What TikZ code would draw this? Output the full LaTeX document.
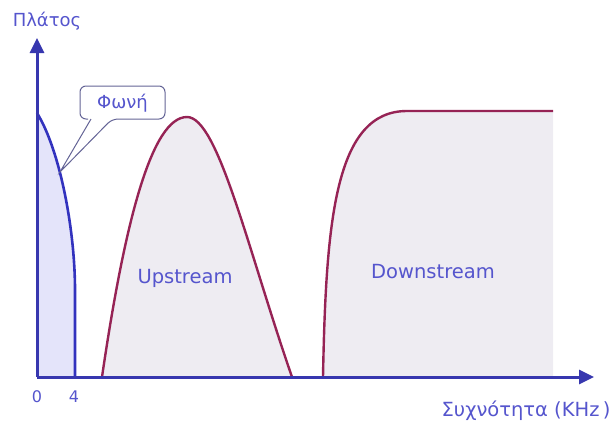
\documentclass[tikz,border=0pt]{standalone}
\usepackage{fontspec}
\setmainfont{DejaVu Sans}
\usetikzlibrary{arrows.meta}
\definecolor{axisblue}{RGB}{55,55,175}
\definecolor{voiceblue}{RGB}{50,50,190}
\definecolor{voicefill}{RGB}{228,228,250}
\definecolor{humpline}{RGB}{150,35,85}
\definecolor{humpfill}{RGB}{238,236,242}
\definecolor{txtblue}{RGB}{85,85,205}
\definecolor{calloutline}{RGB}{100,100,150}
\tikzset{
  axisline/.style={draw=axisblue, line width=3pt, -{Triangle[length=15pt,width=14pt]}},
  humpshape/.style={draw=humpline, fill=humpfill, line width=2.4pt},
  lbl/.style={text=txtblue, inner sep=0pt, font=\fontsize{19.5}{22}\selectfont},
  smalllbl/.style={text=txtblue, inner sep=0pt, font=\fontsize{16}{18}\selectfont},
}
\begin{document}
\begin{tikzpicture}[x=1pt,y=-1pt]
\useasboundingbox (0,0) rectangle (616,421);
% voice region
\fill[voicefill] (37,113) .. controls (60,150) and (75,230) .. (75,290) -- (75,377) -- (37,377) -- cycle;
\draw[voiceblue, line width=2.6pt] (37,113) .. controls (60,150) and (75,230) .. (75,290) -- (75,377);
% upstream hump
\path[humpshape] (102,377) .. controls (125,220) and (152,117) .. (187,117)
  .. controls (218,117) and (248,250) .. (292,377);
% downstream region
\fill[humpfill] (323,377) .. controls (326,220) and (335,111) .. (407,111) -- (553,111) -- (553,377) -- cycle;
\draw[humpline, line width=2.4pt] (323,377) .. controls (326,220) and (335,111) .. (407,111) -- (553,111);
% axes
\coordinate (origin) at (37,377);
\coordinate (ytip) at (37,38);
\coordinate (xtip) at (594,377);
\draw[axisline] (origin) -- (ytip);
\draw[axisline] (origin) -- (xtip);
% callout
\draw[calloutline, fill=white, line width=1pt, rounded corners=6pt]
  (88,119) -- (80,119) -- (80,86) -- (165,86) -- (165,119) -- (112,119)
  [sharp corners] -- (60,172) -- (91,119);
\node[lbl, font=\fontsize{18}{20}\selectfont] (voice) at (122.5,103) {Φωνή};
% labels
\node[lbl, font=\fontsize{18}{20}\selectfont] (ylabel) at (47,21) {Πλάτος};
\node[lbl] (xlabel) at (526,411) {Συχνότητα (KHz\,)};
\node[smalllbl] (zero) at (37,397) {0};
\node[smalllbl] (four) at (74,397) {4};
\node[lbl] (up) at (185,278) {Upstream};
\node[lbl] (down) at (433,272) {Downstream};
\end{tikzpicture}
\end{document}
